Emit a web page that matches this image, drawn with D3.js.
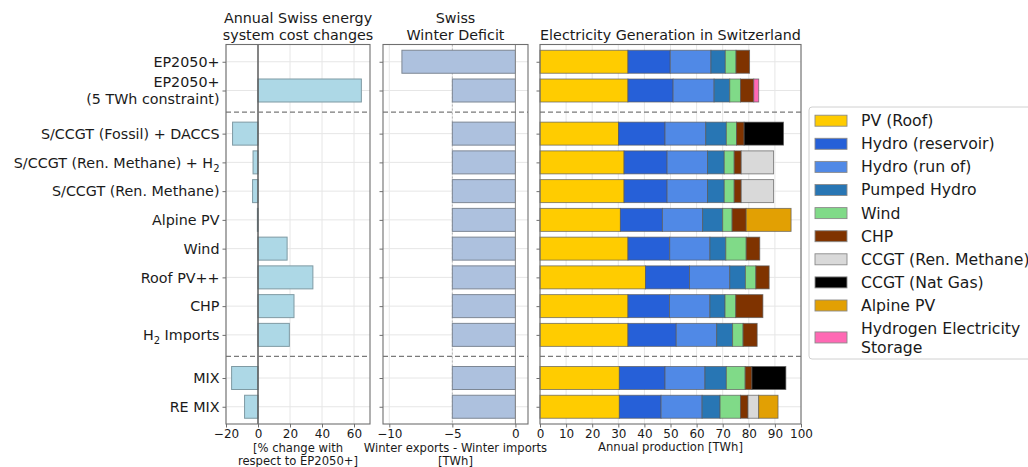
<!DOCTYPE html>
<html>
<head>
<meta charset="utf-8">
<script src="https://cdn.jsdelivr.net/npm/d3@7"></script>
<style>
  html, body { margin: 0; padding: 0; background: #fff; }
  svg { display: block; font-family: "DejaVu Sans", sans-serif; }
</style>
</head>
<body>
<svg id="chart" width="1028" height="467"></svg>
<script>
// Scenario labels (top to bottom); "_2" marks a subscript 2, "\n" a line break
const categories = [
  "EP2050+",
  "EP2050+\n(5 TWh constraint)",
  "S/CCGT (Fossil) + DACCS",
  "S/CCGT (Ren. Methane) + H_2",
  "S/CCGT (Ren. Methane)",
  "Alpine PV",
  "Wind",
  "Roof PV++",
  "CHP",
  "H_2 Imports",
  "MIX",
  "RE MIX"
];
// Scenario blocks separated by dashed lines
const groupSizes = [2, 8, 2];

// Annual system cost change [% vs EP2050+]
const costChange = [0, 64.6, -15.9, -3.1, -3.4, -0.4, 18.2, 34.3, 22.5, 19.6, -16.5, -8.4];
// Winter exports - winter imports [TWh]
const winterDeficit = [-9, -5, -5, -5, -5, -5, -5, -5, -5, -5, -5, -5];

// Annual production per technology [TWh]
const pvRoof    = [33.7, 33.7, 30.1, 32.2, 32.2, 30.8, 33.7, 40.4, 33.7, 33.7, 30.4, 30.4];
const hydroRes  = [16.2, 17.3, 17.8, 16.5, 16.5, 16.1, 16.0, 16.9, 15.9, 18.5, 17.5, 16.0];
const hydroRun  = [15.6, 15.7, 15.6, 15.5, 15.5, 15.4, 15.4, 15.4, 15.5, 15.5, 15.3, 15.7];
const pumped    = [5.5, 6.0, 7.9, 6.4, 6.4, 7.7, 6.1, 6.0, 5.8, 6.1, 8.2, 6.9];
const wind      = [4.1, 4.1, 3.9, 3.8, 3.8, 3.6, 7.8, 4.0, 4.1, 4.0, 7.2, 7.8];
const chp       = [5.2, 5.1, 2.9, 2.7, 2.7, 5.4, 5.2, 5.1, 10.4, 5.4, 2.6, 2.9];
const ccgtRen   = [0, 0, 0, 12.4, 12.4, 0, 0, 0, 0, 0, 0, 4.1];
const ccgtGas   = [0, 0, 15.1, 0, 0, 0, 0, 0, 0, 0, 13.0, 0];
const alpinePV  = [0, 0, 0, 0, 0, 17.2, 0, 0, 0, 0, 0, 7.4];
const h2Storage = [0, 1.9, 0, 0, 0, 0, 0, 0, 0, 0, 0, 0];

const techNames = ["PV (Roof)", "Hydro (reservoir)", "Hydro (run of)", "Pumped Hydro", "Wind", "CHP",
  "CCGT (Ren. Methane)", "CCGT (Nat Gas)", "Alpine PV", "Hydrogen Electricity\nStorage"];
const techSeries = [pvRoof, hydroRes, hydroRun, pumped, wind, chp, ccgtRen, ccgtGas, alpinePV, h2Storage];
const techColors = ["#ffcc00", "#2660d8", "#5089e6", "#2876b4", "#80da88", "#7f3300",
  "#d9d9d9", "#000000", "#e2a003", "#ff69b4"];

const costTicks = [-20, 0, 20, 40, 60];
const deficitTicks = [-10, -5, 0];
const genTicks = [0, 10, 20, 30, 40, 50, 60, 70, 80, 90, 100];

// ---- layout ----
const svg = d3.select("#chart");
const plotTop = 44.5, plotBottom = 424;
const panels = {
  cost: { x0: 226, x1: 370 },
  deficit: { x0: 383, x1: 528 },
  gen: { x0: 540, x1: 801 }
};
const spineColor = "#6f6f6f";
const gridColor = "#e6e6e6";

// vertical positions: half-row gap between scenario blocks
const positions = [];
const separators = [];
{
  let p = 0;
  groupSizes.forEach((n, gi) => {
    for (let i = 0; i < n; i++) { positions.push(p); p += 1; }
    if (gi < groupSizes.length - 1) { separators.push(p - 1 + 0.75); p += 0.5; }
  });
}
const y = d3.scaleLinear().domain([-0.6, positions[positions.length - 1] + 0.6]).range([plotTop, plotBottom]);
const barH = y(0.8) - y(0);

const xCost = d3.scaleLinear().domain([-20, 70]).range([panels.cost.x0, panels.cost.x1]);
const xDef = d3.scaleLinear().domain([-10.5, 1]).range([panels.deficit.x0, panels.deficit.x1]);
const xGen = d3.scaleLinear().domain([0, 100]).range([panels.gen.x0, panels.gen.x1]);

function panelFrame(x, ticks) {
  const g = svg.append("g");
  // grid
  g.selectAll("line.vg").data(ticks).join("line")
    .attr("x1", d => x(d)).attr("x2", d => x(d))
    .attr("y1", plotTop).attr("y2", plotBottom)
    .attr("stroke", gridColor).attr("stroke-width", 1);
  g.selectAll("line.hg").data(positions).join("line")
    .attr("x1", x.range()[0]).attr("x2", x.range()[1])
    .attr("y1", d => y(d)).attr("y2", d => y(d))
    .attr("stroke", gridColor).attr("stroke-width", 1);
  return g;
}

function panelDecor(x, ticks) {
  const g = svg.append("g");
  // block separators
  g.selectAll("line.sep").data(separators).join("line")
    .attr("x1", x.range()[0]).attr("x2", x.range()[1])
    .attr("y1", d => y(d)).attr("y2", d => y(d))
    .attr("stroke", "#7a7a7a").attr("stroke-width", 1.3)
    .attr("stroke-dasharray", "5,3");
  // spines
  g.append("rect")
    .attr("x", x.range()[0]).attr("y", plotTop)
    .attr("width", x.range()[1] - x.range()[0]).attr("height", plotBottom - plotTop)
    .attr("fill", "none").attr("stroke", spineColor).attr("stroke-width", 1.1);
  // x axis
  const ax = g.append("g").attr("transform", `translate(0,${plotBottom})`)
    .call(d3.axisBottom(x).tickValues(ticks).tickSize(3.5).tickPadding(2).tickFormat(d3.format("d")));
  ax.select(".domain").remove();
  ax.selectAll(".tick line").attr("stroke", spineColor);
  ax.selectAll(".tick text").attr("font-size", 12).attr("fill", "#1a1a1a")
    .attr("font-family", "DejaVu Sans, sans-serif");
  // y ticks
  const ay = g.append("g").attr("transform", `translate(${x.range()[0]},0)`)
    .call(d3.axisLeft(y).tickValues(positions).tickSize(3.5).tickFormat(() => ""));
  ay.select(".domain").remove();
  ay.selectAll(".tick line").attr("stroke", spineColor);
  return g;
}

function addText(parent, x, yBase, lines, size, anchor) {
  lines.forEach((line, i) => {
    const t = parent.append("text")
      .attr("x", x).attr("y", yBase + i * size * 1.18)
      .attr("text-anchor", anchor).attr("font-size", size).attr("fill", "#1a1a1a");
    const parts = line.split("_2");
    parts.forEach((part, k) => {
      if (k > 0) {
        t.append("tspan").attr("font-size", size * 0.7).attr("dy", size * 0.28).text("2");
        t.append("tspan").attr("dy", -size * 0.28).text(part);
      } else {
        t.append("tspan").text(part);
      }
    });
  });
}

// ---- panel 1: cost changes ----
panelFrame(xCost, costTicks);
svg.append("g").selectAll("rect").data(costChange).join("rect")
  .attr("x", d => xCost(Math.min(0, d)))
  .attr("width", d => Math.abs(xCost(d) - xCost(0)))
  .attr("y", (d, i) => y(positions[i]) - barH / 2)
  .attr("height", barH)
  .attr("fill", "#add8e6").attr("stroke", "#7f9aa3").attr("stroke-width", 1);
svg.append("line")
  .attr("x1", xCost(0)).attr("x2", xCost(0)).attr("y1", plotTop).attr("y2", plotBottom)
  .attr("stroke", "#555").attr("stroke-width", 1.4);
panelDecor(xCost, costTicks);

// ---- panel 2: winter deficit ----
panelFrame(xDef, deficitTicks);
svg.append("line")
  .attr("x1", xDef(-5)).attr("x2", xDef(-5)).attr("y1", plotTop).attr("y2", plotBottom)
  .attr("stroke", "#b5b5b5").attr("stroke-width", 1).attr("stroke-dasharray", "2,2");
svg.append("g").selectAll("rect").data(winterDeficit).join("rect")
  .attr("x", d => xDef(Math.min(0, d)))
  .attr("width", d => Math.abs(xDef(d) - xDef(0)))
  .attr("y", (d, i) => y(positions[i]) - barH / 2)
  .attr("height", barH)
  .attr("fill", "#adc1de").attr("stroke", "#7d8794").attr("stroke-width", 1);
svg.append("line")
  .attr("x1", xDef(0)).attr("x2", xDef(0)).attr("y1", plotTop).attr("y2", plotBottom)
  .attr("stroke", "#8a8a8a").attr("stroke-width", 1);
panelDecor(xDef, deficitTicks);

// ---- panel 3: generation mix ----
panelFrame(xGen, genTicks);
const genRows = categories.map((c, i) => {
  const row = { idx: i };
  techNames.forEach((n, k) => { row[n] = techSeries[k][i]; });
  return row;
});
const stacked = d3.stack().keys(techNames)(genRows);
const genG = svg.append("g");
stacked.forEach((layer, k) => {
  genG.append("g").selectAll("rect").data(layer.filter(d => d[1] - d[0] > 0)).join("rect")
    .attr("x", d => xGen(d[0]))
    .attr("width", d => xGen(d[1]) - xGen(d[0]))
    .attr("y", d => y(positions[d.data.idx]) - barH / 2)
    .attr("height", barH)
    .attr("fill", techColors[k])
    .attr("stroke", "#5a5a5a").attr("stroke-opacity", 0.75).attr("stroke-width", 0.9);
});
panelDecor(xGen, genTicks);

// ---- category labels ----
const labelG = svg.append("g");
categories.forEach((c, i) => {
  const lines = c.split("\n");
  const fs = 14.3;
  const lh = fs * 1.18;
  const yc = y(positions[i]);
  const first = yc - (lines.length - 1) * lh / 2 + fs * 0.36;
  addText(labelG, panels.cost.x0 - 6.5, first, lines, fs, "end");
});

// ---- titles ----
const titleG = svg.append("g");
addText(titleG, (panels.cost.x0 + panels.cost.x1) / 2, 23, ["Annual Swiss energy", "system cost changes"], 14.3, "middle");
addText(titleG, (panels.deficit.x0 + panels.deficit.x1) / 2, 23, ["Swiss", "Winter Deficit"], 14.3, "middle");
addText(titleG, (panels.gen.x0 + panels.gen.x1) / 2, 39.8, ["Electricity Generation in Switzerland"], 14.3, "middle");

// ---- axis labels ----
addText(titleG, (panels.cost.x0 + panels.cost.x1) / 2, 451.5, ["[% change with", "respect to EP2050+]"], 11.6, "middle");
addText(titleG, (panels.deficit.x0 + panels.deficit.x1) / 2, 451.5, ["Winter exports - Winter imports", "[TWh]"], 11.6, "middle");
addText(titleG, (panels.gen.x0 + panels.gen.x1) / 2, 451, ["Annual production [TWh]"], 11.6, "middle");

// ---- legend ----
const leg = svg.append("g");
leg.append("rect")
  .attr("x", 809).attr("y", 107).attr("width", 240).attr("height", 252)
  .attr("rx", 3).attr("fill", "#fff").attr("stroke", "#d0d0d0").attr("stroke-width", 1);
const legFs = 15.7;
let ly = 120.7;
techNames.forEach((n, k) => {
  const lines = n.split("\n");
  const h = (lines.length - 1) * 17.7;
  const cy = ly + h / 2;
  leg.append("rect")
    .attr("x", 815).attr("y", cy - 5.5).attr("width", 32).attr("height", 11)
    .attr("fill", techColors[k]).attr("stroke", "#8a8a8a").attr("stroke-width", 0.9);
  addText(leg, 861, ly + legFs * 0.35, lines, legFs, "start");
  ly += 23.1 + h;
});
</script>
</body>
</html>
